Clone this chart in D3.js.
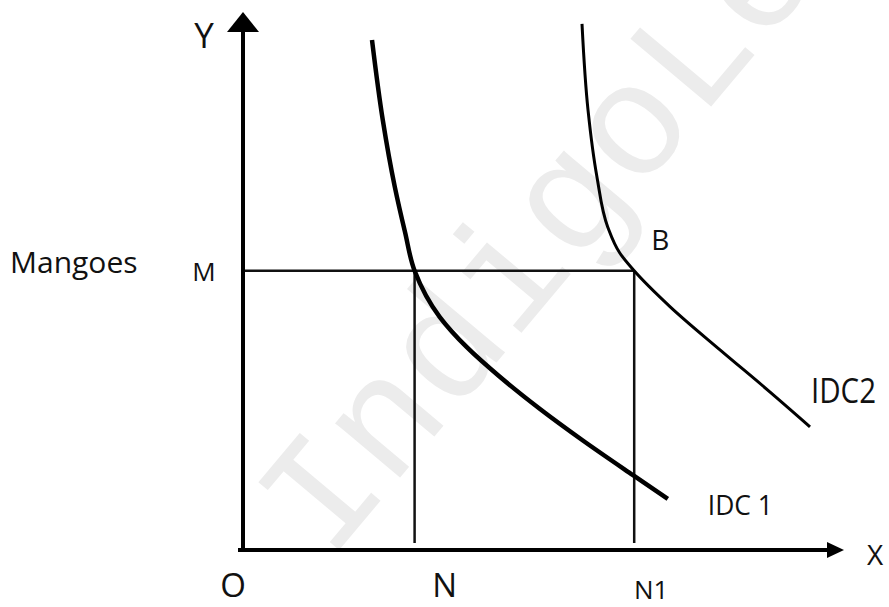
<!DOCTYPE html>
<html>
<head>
<meta charset="utf-8">
<script src="https://cdn.jsdelivr.net/npm/d3@7"></script>
<style>
  body { margin: 0; background: #fff; }
  svg { display: block; }
  text { font-family: "Open Sans", sans-serif; fill: #111; }
</style>
</head>
<body>
<div id="chart"></div>
<script>
// indifference curves (x = oranges, y = mangoes, 0-100 units)
var idc1X = [21.5, 23.3, 25.3, 27.0, 28.6, 32.8, 37.3, 42.8, 49.5, 56.7, 65.0, 70.8];
var idc1Y = [94.8, 79.9, 67.5, 59.1, 51.9, 43.3, 37.7, 32.2, 26.2, 20.3, 13.9, 9.5];
var idc2X = [56.5, 57.5, 59.0, 60.8, 62.8, 65.2, 71.2, 79.5, 87.8, 94.5];
var idc2Y = [97.8, 81.8, 69.3, 60.0, 55.2, 51.9, 45.2, 37.2, 29.4, 22.9];

var curveNames = ["IDC 1", "IDC2"];
var xMarks = [0, 28.6, 65.2];        // O, N, N1
var xMarkLabels = ["O", "N", "N1"];
var yMark = 51.9;                     // M
var yMarkLabel = "M";
var yTitle = "Mangoes";
var pointLabel = "B";
var watermark = "IndigoLearn";

var width = 889, height = 607;

var svg = d3.select("#chart").append("svg")
    .attr("width", width)
    .attr("height", height);

var x = d3.scaleLinear().domain([0, 100]).range([243, 843]);
var y = d3.scaleLinear().domain([0, 100]).range([550, 12]);

// faint watermark behind everything
svg.append("text")
    .attr("transform", "translate(329,562) rotate(-50)")
    .style("font-family", "'Liberation Mono', monospace")
    .style("font-size", "160px")
    .style("fill", "#ececec")
    .text(watermark);

// guide lines through M, N and N1
svg.append("line")
    .attr("x1", x(0)).attr("x2", x(xMarks[2]))
    .attr("y1", y(yMark)).attr("y2", y(yMark))
    .attr("stroke", "#111").attr("stroke-width", 2.5);

svg.selectAll(".drop")
    .data(xMarks.slice(1))
    .enter().append("line")
    .attr("class", "drop")
    .attr("x1", d => x(d)).attr("x2", d => x(d))
    .attr("y1", y(yMark)).attr("y2", y(0) - 7)
    .attr("stroke", "#111").attr("stroke-width", 2.5);

// curves (monotone in y keeps the steep tops smooth)
var line = d3.line()
    .x(d => x(d[0]))
    .y(d => y(d[1]))
    .curve(d3.curveMonotoneY);

svg.append("path")
    .datum(d3.zip(idc1X, idc1Y))
    .attr("d", line)
    .attr("fill", "none")
    .attr("stroke", "#000")
    .attr("stroke-width", 4.5);

svg.append("path")
    .datum(d3.zip(idc2X, idc2Y))
    .attr("d", line)
    .attr("fill", "none")
    .attr("stroke", "#000")
    .attr("stroke-width", 3);

// axes with arrow heads
svg.append("line")
    .attr("x1", x(0)).attr("x2", x(0))
    .attr("y1", y(0)).attr("y2", y(100) + 18)
    .attr("stroke", "#000").attr("stroke-width", 4);
svg.append("path")
    .attr("d", "M" + x(0) + "," + y(100) + "L" + (x(0) + 16) + "," + (y(100) + 20) +
               "L" + (x(0) - 16) + "," + (y(100) + 20) + "Z")
    .attr("fill", "#000");

svg.append("line")
    .attr("x1", x(0) - 5).attr("x2", x(100) - 15)
    .attr("y1", y(0)).attr("y2", y(0))
    .attr("stroke", "#000").attr("stroke-width", 4);
svg.append("path")
    .attr("d", "M" + (x(100) + 1) + "," + y(0) + "L" + (x(100) - 16) + "," + (y(0) - 8) +
               "L" + (x(100) - 16) + "," + (y(0) + 8) + "Z")
    .attr("fill", "#000");

// axis letters
svg.append("text").attr("x", 204).attr("y", 48)
    .attr("text-anchor", "middle").style("font-size", "35px").text("Y");
svg.append("text").attr("x", 875).attr("y", 565)
    .attr("text-anchor", "middle").style("font-size", "28px").text("X");

// labels under the x axis
var xLabelStyle = [
    {dx: -10, dy: 47, size: 33},
    {dx: 30, dy: 47, size: 33},
    {dx: 17, dy: 49, size: 26}
];
svg.selectAll(".xlab")
    .data(xMarks)
    .enter().append("text")
    .attr("class", "xlab")
    .attr("x", (d, i) => x(d) + xLabelStyle[i].dx)
    .attr("y", (d, i) => y(0) + xLabelStyle[i].dy)
    .attr("text-anchor", "middle")
    .style("font-size", (d, i) => xLabelStyle[i].size + "px")
    .text((d, i) => xMarkLabels[i]);

// y side labels
svg.append("text").attr("x", 10).attr("y", y(yMark) + 2)
    .style("font-size", "30px").text(yTitle);
svg.append("text").attr("x", 204).attr("y", y(yMark) + 10)
    .attr("text-anchor", "middle").style("font-size", "26px").text(yMarkLabel);

// point B and curve names
svg.append("text").attr("x", x(xMarks[2]) + 26).attr("y", y(yMark) - 21)
    .attr("text-anchor", "middle").style("font-size", "28px").text(pointLabel);

svg.append("text")
    .attr("x", x(idc1X[idc1X.length - 1]) + 40)
    .attr("y", y(idc1Y[idc1Y.length - 1]) + 16)
    .attr("textLength", 65).attr("lengthAdjust", "spacingAndGlyphs")
    .style("font-size", "28px").text(curveNames[0]);

svg.append("text")
    .attr("x", x(idc2X[idc2X.length - 1]) + 1)
    .attr("y", y(idc2Y[idc2Y.length - 1]) - 24)
    .attr("textLength", 65).attr("lengthAdjust", "spacingAndGlyphs")
    .style("font-size", "35px").text(curveNames[1]);
</script>
</body>
</html>
